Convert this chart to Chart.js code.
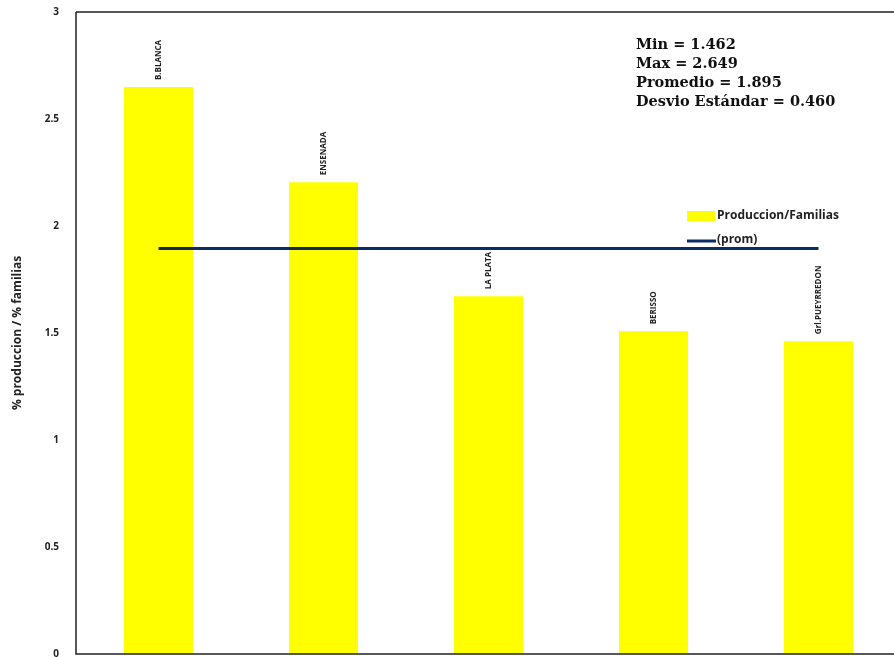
<!DOCTYPE html>
<html>
<head>
<meta charset="utf-8">
<script src="https://cdn.jsdelivr.net/npm/chart.js@4.4.1/dist/chart.umd.min.js"></script>
<style>
html,body{margin:0;padding:0;background:#fff;overflow:hidden;}
#wrap{width:910px;height:672px;margin-top:-3px;}
</style>
</head>
<body>
<div id="wrap"><canvas id="grafico"></canvas></div>
<script>
// datos
const partidos = ["B.BLANCA", "ENSENADA", "LA PLATA", "BERISSO", "Grl.PUEYRREDON"];
const produccionFamilias = [2.649, 2.205, 1.672, 1.508, 1.462];
const promedio = [1.895, 1.895, 1.895, 1.895, 1.895];
const estadisticas = ["Min = 1.462", "Max = 2.649", "Promedio = 1.895", "Desvio Estándar = 0.460"];

const fuente = "'Open Sans', 'Liberation Sans', sans-serif";
const dy = 3; // el canvas esta corrido 3px hacia arriba

// etiquetas verticales sobre las barras, caja de estadisticas y leyenda
const extras = {
    id: "extras",
    afterDatasetsDraw(chart){
        const c = chart.ctx;
        const area = chart.chartArea;
        c.save();

        // marco: arriba, izquierda, abajo
        c.strokeStyle = "#222";
        c.lineWidth = 1.5;
        c.beginPath();
        c.moveTo(area.left, area.top);
        c.lineTo(area.right, area.top);
        c.moveTo(area.left, area.top);
        c.lineTo(area.left, area.bottom);
        c.lineTo(area.right, area.bottom);
        c.stroke();

        // nombres sobre cada barra
        const barras = chart.getDatasetMeta(1).data;
        c.fillStyle = "#222";
        c.font = "bold 8px " + fuente;
        c.textAlign = "left";
        c.textBaseline = "middle";
        barras.forEach((b, i) => {
            c.save();
            c.translate(b.x, b.y - 7);
            c.rotate(-Math.PI / 2);
            c.fillText(partidos[i], 0, 0);
            c.restore();
        });

        // estadisticas
        c.fillStyle = "#111";
        c.font = "bold 14.5px 'DejaVu Serif', serif";
        c.textBaseline = "middle";
        estadisticas.forEach((t, i) => {
            c.fillText(t, 636, dy + 45 + i * 19);
        });

        // leyenda
        c.fillStyle = "#ffff00";
        c.fillRect(687, dy + 211, 28, 10);
        c.strokeStyle = "#0d2a66";
        c.lineWidth = 3;
        c.beginPath();
        c.moveTo(687, dy + 241);
        c.lineTo(716, dy + 241);
        c.stroke();
        c.fillStyle = "#222";
        c.font = "bold 12px " + fuente;
        c.fillText("Produccion/Familias", 717, dy + 216);
        c.fillText("(prom)", 717, dy + 240);

        c.restore();
    }
};

const ctx = document.getElementById("grafico");

new Chart(ctx, {
    type: "bar",
    data: {
        labels: partidos,
        datasets: [
            {
                type: "line",
                label: "(prom)",
                data: promedio,
                borderColor: "#0d2a66",
                borderWidth: 3,
                pointRadius: 0,
                fill: false,
                order: 0
            },
            {
                label: "Produccion/Familias",
                data: produccionFamilias,
                backgroundColor: "#ffff00",
                categoryPercentage: 1,
                barPercentage: 0.418,
                order: 1
            }
        ]
    },
    options: {
        responsive: true,
        maintainAspectRatio: false,
        animation: false,
        layout: { padding: { top: 2, right: 9, bottom: 0, left: 0 } },
        plugins: {
            legend: { display: false },
            tooltip: { enabled: false }
        },
        scales: {
            x: {
                display: false
            },
            y: {
                min: 0,
                max: 3,
                ticks: {
                    stepSize: 0.5,
                    color: "#222",
                    padding: 9,
                    font: { family: fuente, size: 10, weight: "bold" },
                    callback: v => String(v)
                },
                grid: { display: false },
                border: { display: false },
                title: {
                    display: true,
                    text: "% produccion / % familias",
                    color: "#222",
                    padding: { top: 10, bottom: 0 },
                    font: { family: fuente, size: 12, weight: "bold" }
                },
                afterFit(s){ s.width = 76; }
            }
        }
    },
    plugins: [extras]
});
</script>
</body>
</html>
